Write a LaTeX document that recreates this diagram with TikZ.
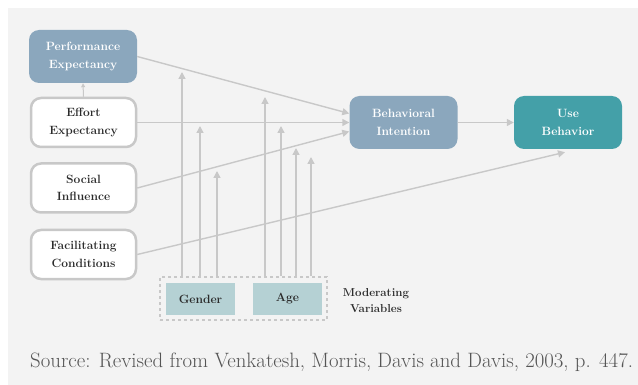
\documentclass[tikz,border=0pt]{standalone}
\usepackage{xcolor}
\usetikzlibrary{arrows.meta}
\definecolor{bgcol}{HTML}{F3F3F3}
\definecolor{linecol}{HTML}{C8C8C8}
\definecolor{bluecol}{HTML}{8BA7BD}
\definecolor{tealcol}{HTML}{44A0A8}
\definecolor{modcol}{HTML}{B5D1D4}
\definecolor{txtcol}{HTML}{2B2B2B}
\definecolor{srccol}{HTML}{555555}

\begin{document}
\begin{tikzpicture}[x=1pt,y=-1pt,
	font=\bfseries\fontsize{12}{17.5}\selectfont,
	construct/.style={draw=linecol, line width=2.5pt, fill=white, text=txtcol, rounded corners=10pt, minimum width=105pt, minimum height=49pt, align=center, inner sep=0pt},
	filled/.style={fill=#1, text=white, rounded corners=10pt, minimum width=108pt, minimum height=53pt, align=center, inner sep=0pt},
	moderator/.style={fill=modcol, text=txtcol, minimum width=69pt, minimum height=32pt, inner sep=0pt},
	arr/.style={draw=linecol, line width=1.4pt, -{Triangle[length=7pt,width=7pt]}}]
	\useasboundingbox (0,0) rectangle (638,385);
	\fill[bgcol] (8,8) rectangle (638,385);
	\node[filled=bluecol] (pe) at (83,56.5) {Performance\\Expectancy};
	\node[construct] (ee) at (83.5,122.5) {Effort\\Expectancy};
	\node[construct] (si) at (83.5,188) {Social\\Influence};
	\node[construct] (fc) at (83.5,254.5) {Facilitating\\Conditions};
	\node[filled=bluecol] (bi) at (403.5,122.5) {Behavioral\\Intention};
	\node[filled=tealcol] (ub) at (568,122.5) {Use\\Behavior};
	\node[draw=linecol, dashed, line width=1.2pt, minimum width=167pt, minimum height=43pt] (modbox) at (243.5,298.5) {};
	\node[moderator] (gender) at (200.5,299) {Gender};
	\node[moderator] (age) at (287.5,298.5) {Age};
	\node[text=txtcol, align=center, font=\bfseries\fontsize{11.5}{16}\selectfont] (modlabel) at (376,301) {Moderating\\Variables};
	\node[anchor=base west, text=srccol, font=\fontsize{20.8}{24}\selectfont, inner sep=0pt] (source) at (30,367) {Source: Revised from Venkatesh, Morris, Davis and Davis, 2003, p. 447.};
	\foreach \x/\tip in {182/72, 200/126, 217/171, 265/97, 281/126, 296/148, 311/157}
		\draw[arr] (\x,0 |- modbox.north) -- (\x,\tip);
	\draw[arr] (pe.east) -- ([yshift=9pt]bi.west);
	\draw[arr] (ee.east) -- (bi.west);
	\draw[arr] (si.east) -- ([yshift=-9pt]bi.west);
	\draw[arr] (fc.east) -- ([xshift=-3pt,yshift=-3pt]ub.south);
	\draw[arr] (bi.east) -- (ub.west);
	\draw[arr, line width=1pt, -{Triangle[length=4pt,width=4pt]}] (ee.north) -- (pe.south);
\end{tikzpicture}
\end{document}
